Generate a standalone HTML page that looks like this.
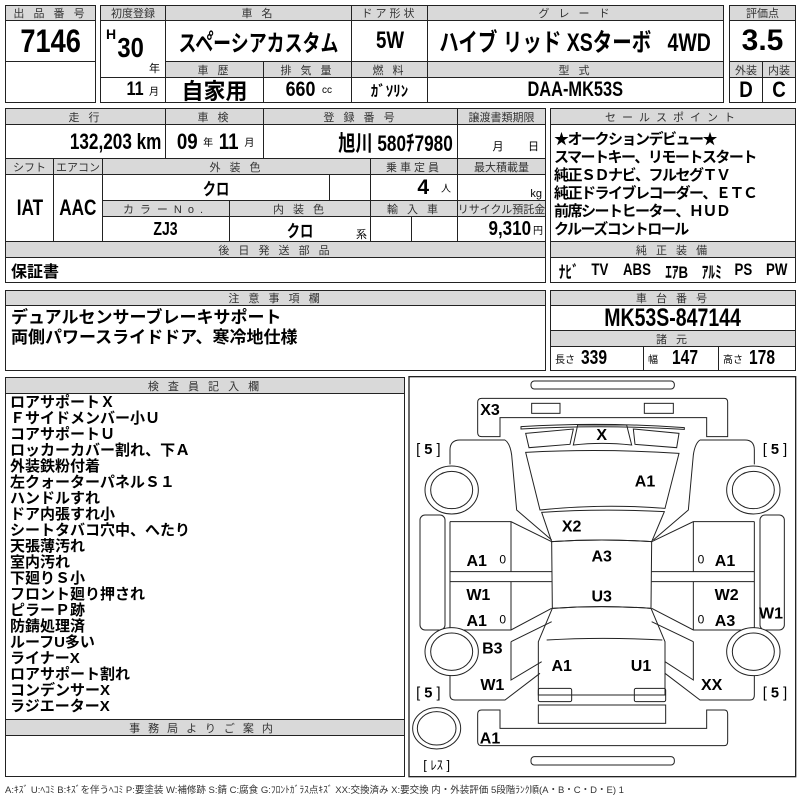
<!DOCTYPE html>
<html><head><meta charset="utf-8">
<style>
body{margin:0;background:#fff;width:800px;height:800px;position:relative;overflow:hidden;font-family:"Liberation Sans","Noto Sans CJK JP",sans-serif;}
.c{position:absolute;box-sizing:border-box;border:1px solid #222;display:flex;align-items:center;justify-content:center;white-space:nowrap;color:#000;}
.h{background:#d9d9d9;font-size:11px;color:#333;letter-spacing:3px;}
.v{font-family:"Liberation Sans","Noto Sans CJK JP",sans-serif;font-weight:bold;font-size:19px;}
.b{font-weight:bold;font-family:"Liberation Sans","Noto Sans CJK JP",sans-serif;}
.s{font-size:10px;font-weight:normal;margin-left:4px;}
.t{position:absolute;white-space:nowrap;}
.n{display:inline-block;transform:scaleX(0.78);}
.m{display:inline-block;transform:scaleX(0.85);}
</style></head><body>
<!-- block1 -->
<div class="c h" style="left:5px;top:5px;width:91px;height:16px">出 品 番 号</div>
<div class="c v" style="left:5px;top:20px;width:91px;height:42px;font-size:32px"><span class="m">7146</span></div>
<div class="c" style="left:5px;top:61px;width:91px;height:42px"></div>
<!-- block2 -->
<div class="c h" style="left:100px;top:5px;width:66px;height:16px;letter-spacing:0">初度登録</div>
<div class="c h" style="left:165px;top:5px;width:187px;height:16px">車 名</div>
<div class="c h" style="left:351px;top:5px;width:77px;height:16px">ドア形状</div>
<div class="c h" style="left:427px;top:5px;width:297px;height:16px">グ レ ー ド</div>
<div class="c" style="left:100px;top:20px;width:66px;height:58px"></div>
<div class="t v" style="left:106px;top:26px;font-size:14px">H</div>
<div class="t v" style="left:115px;top:32px;font-size:28px"><span class="m">30</span></div>
<div class="t" style="left:149px;top:60px;font-size:11px">年</div>
<div class="c v" style="left:165px;top:20px;width:187px;height:42px;font-size:23px"><span class="n">スペ゚ーシアカスタム</span></div>
<div class="c v" style="left:351px;top:20px;width:77px;height:42px;font-size:24px"><span class="n">5W</span></div>
<div class="c v" style="left:427px;top:20px;width:297px;height:42px;font-size:25px"><span class="n">ハイブ リッド XSターボ&nbsp;&nbsp;&nbsp;4WD</span></div>
<div class="c h" style="left:165px;top:61px;width:99px;height:17px">車 歴</div>
<div class="c h" style="left:263px;top:61px;width:89px;height:17px">排 気 量</div>
<div class="c h" style="left:351px;top:61px;width:77px;height:17px">燃 料</div>
<div class="c h" style="left:427px;top:61px;width:297px;height:17px">型 式</div>
<div class="c v" style="left:100px;top:77px;width:66px;height:26px;justify-content:flex-end;padding-right:6px"><span class="m">11</span><span class="s">月</span></div>
<div class="c v" style="left:165px;top:77px;width:99px;height:26px;font-size:22px">自家用</div>
<div class="c v" style="left:263px;top:77px;width:89px;height:26px;font-size:21px"><span class="m">660</span><span class="s">cc</span></div>
<div class="c v" style="left:351px;top:77px;width:77px;height:26px;font-size:15px">ｶﾞｿﾘﾝ</div>
<div class="c v" style="left:427px;top:77px;width:297px;height:26px;font-size:21px"><span class="n">DAA-MK53S</span></div>
<!-- eval -->
<div class="c h" style="left:729px;top:5px;width:67px;height:16px;letter-spacing:0">評価点</div>
<div class="c v" style="left:729px;top:20px;width:67px;height:42px;font-size:30px">3.5</div>
<div class="c h" style="left:729px;top:61px;width:34px;height:17px;letter-spacing:0">外装</div>
<div class="c h" style="left:762px;top:61px;width:34px;height:17px;letter-spacing:0">内装</div>
<div class="c v" style="left:729px;top:77px;width:34px;height:26px;font-size:22px"><span class="m">D</span></div>
<div class="c v" style="left:762px;top:77px;width:34px;height:26px;font-size:22px"><span class="m">C</span></div>
<!-- block3 -->
<div class="c h" style="left:5px;top:108px;width:161px;height:17px">走 行</div>
<div class="c h" style="left:165px;top:108px;width:99px;height:17px">車 検</div>
<div class="c h" style="left:263px;top:108px;width:195px;height:17px">登 録 番 号</div>
<div class="c h" style="left:457px;top:108px;width:89px;height:17px;letter-spacing:0">譲渡書類期限</div>
<div class="c v" style="left:5px;top:124px;width:161px;height:35px;justify-content:flex-end;padding-right:4px;font-size:22px"><span class="n" style="transform-origin:right">132,203 km</span></div>
<div class="c v" style="left:165px;top:124px;width:99px;height:35px;font-size:22px"><span class="m">09</span><span class="s" style="margin-right:4px">年</span><span class="m">11</span><span class="s">月</span></div>
<div class="c v" style="left:263px;top:124px;width:195px;height:35px;font-size:22px;justify-content:flex-end;padding-right:4px"><span class="n" style="transform-origin:right">旭川 580ﾁ7980</span></div>
<div class="c" style="left:457px;top:124px;width:89px;height:35px;font-size:11px;align-items:flex-end;padding-bottom:4px;justify-content:flex-end;padding-right:6px">月&nbsp;&nbsp;&nbsp;&nbsp;&nbsp;&nbsp;&nbsp;&nbsp;日</div>
<div class="c h" style="left:5px;top:158px;width:49px;height:17px;letter-spacing:0">シフト</div>
<div class="c h" style="left:53px;top:158px;width:50px;height:17px;letter-spacing:0">エアコン</div>
<div class="c h" style="left:102px;top:158px;width:269px;height:17px">外 装 色</div>
<div class="c h" style="left:370px;top:158px;width:88px;height:17px">乗車定員</div>
<div class="c h" style="left:457px;top:158px;width:89px;height:17px;letter-spacing:0">最大積載量</div>
<div class="c v" style="left:5px;top:174px;width:49px;height:68px;font-size:22px"><span class="n">IAT</span></div>
<div class="c v" style="left:53px;top:174px;width:50px;height:68px;font-size:22px"><span class="n">AAC</span></div>
<div class="c v" style="left:102px;top:174px;width:228px;height:27px;font-size:17px"><span class="n">クロ</span></div>
<div class="c" style="left:329px;top:174px;width:42px;height:27px"></div>
<div class="c v" style="left:370px;top:174px;width:88px;height:27px;justify-content:flex-end;padding-right:6px;font-size:21px">4<span class="s" style="margin-left:12px">人</span></div>
<div class="c" style="left:457px;top:174px;width:89px;height:27px;font-size:11px;justify-content:flex-end;padding-right:3px;align-items:flex-end">kg</div>
<div class="c h" style="left:102px;top:200px;width:128px;height:17px;letter-spacing:6px">カラーNo.</div>
<div class="c h" style="left:229px;top:200px;width:142px;height:17px">内 装 色</div>
<div class="c h" style="left:370px;top:200px;width:88px;height:17px">輸 入 車</div>
<div class="c h" style="left:457px;top:200px;width:89px;height:17px;letter-spacing:0">リサイクル預託金</div>
<div class="c v" style="left:102px;top:216px;width:128px;height:26px;font-size:18px"><span class="n">ZJ3</span></div>
<div class="c v" style="left:229px;top:216px;width:142px;height:26px;font-size:17px"><span class="n">クロ</span></div>
<div class="t" style="left:356px;top:226px;font-size:11px">系</div>
<div class="c" style="left:370px;top:216px;width:42px;height:26px"></div>
<div class="c" style="left:411px;top:216px;width:47px;height:26px"></div>
<div class="c v" style="left:457px;top:216px;width:89px;height:26px;justify-content:flex-end;padding-right:2px;font-size:20px"><span class="m" style="transform-origin:right">9,310</span><span class="s" style="margin-left:2px">円</span></div>
<div class="c h" style="left:5px;top:241px;width:541px;height:17px">後 日 発 送 部 品</div>
<div class="c b" style="left:5px;top:257px;width:541px;height:26px;justify-content:flex-start;padding-left:5px;font-size:16px">保証書</div>
<!-- sales -->
<div class="c h" style="left:550px;top:108px;width:246px;height:17px;letter-spacing:6px">セールスポイント</div>
<div class="c b" style="left:550px;top:124px;width:246px;height:118px;display:block;font-size:15px;letter-spacing:-1.5px;line-height:18px;padding:6px 0 0 3px">★オークションデビュー★<br>スマートキー、リモートスタート<br>純正ＳＤナビ、フルセグＴＶ<br>純正ドライブレコーダー、ＥＴＣ<br>前席シートヒーター、ＨＵＤ<br>クルーズコントロール</div>
<div class="c h" style="left:550px;top:241px;width:246px;height:17px">純 正 装 備</div>
<div class="c v" style="left:550px;top:257px;width:246px;height:26px;justify-content:space-between;padding:0 5px;font-size:17px"><span class="n">ﾅﾋﾞ</span><span class="n">TV</span><span class="n">ABS</span><span class="n">ｴｱB</span><span class="n">ｱﾙﾐ</span><span class="n">PS</span><span class="n">PW</span></div>
<!-- notes -->
<div class="c h" style="left:5px;top:290px;width:541px;height:16px">注 意 事 項 欄</div>
<div class="c b" style="left:5px;top:305px;width:541px;height:66px;display:block;font-size:17px;line-height:20px;padding:2px 0 0 5px">デュアルセンサーブレーキサポート<br>両側パワースライドドア、寒冷地仕様</div>
<div class="c h" style="left:550px;top:290px;width:246px;height:16px">車 台 番 号</div>
<div class="c v" style="left:550px;top:305px;width:246px;height:26px;font-size:25px"><span class="n">MK53S-847144</span></div>
<div class="c h" style="left:550px;top:330px;width:246px;height:17px">諸 元</div>
<div class="c v" style="left:550px;top:346px;width:94px;height:25px;justify-content:flex-start;padding-left:4px;font-size:20px"><span class="s" style="margin:0 6px 0 0">長さ</span><span class="n" style="transform-origin:left">339</span></div>
<div class="c v" style="left:643px;top:346px;width:76px;height:25px;justify-content:flex-start;padding-left:4px;font-size:20px"><span class="s" style="margin:0 14px 0 0">幅</span><span class="n" style="transform-origin:left">147</span></div>
<div class="c v" style="left:718px;top:346px;width:78px;height:25px;justify-content:flex-start;padding-left:4px;font-size:20px"><span class="s" style="margin:0 6px 0 0">高さ</span><span class="n" style="transform-origin:left">178</span></div>
<!-- inspector -->
<div class="c h" style="left:5px;top:377px;width:400px;height:17px">検 査 員 記 入 欄</div>
<div class="c b" style="left:5px;top:393px;width:400px;height:327px;display:block;font-size:15px;line-height:16px;padding:1px 0 0 4px">ロアサポートＸ<br>Ｆサイドメンバー小Ｕ<br>コアサポートＵ<br>ロッカーカバー割れ、下Ａ<br>外装鉄粉付着<br>左クォーターパネルＳ１<br>ハンドルすれ<br>ドア内張すれ小<br>シートタバコ穴中、へたり<br>天張薄汚れ<br>室内汚れ<br>下廻りＳ小<br>フロント廻り押され<br>ピラーＰ跡<br>防錆処理済<br>ルーフU多い<br>ライナーX<br>ロアサポート割れ<br>コンデンサーX<br>ラジエーターX</div>
<div class="c h" style="left:5px;top:719px;width:400px;height:17px;letter-spacing:8px">事務局よりご案内</div>
<div class="c" style="left:5px;top:735px;width:400px;height:42px"></div>
<!-- diagram -->
<svg style="position:absolute;left:405px;top:375px" width="395" height="410" viewBox="0 0 1185 1230" fill="none" stroke="#222" stroke-width="3">
<rect x="12" y="5" width="1160" height="1200" stroke-width="4"/>
<rect x="378" y="18" width="430" height="24" rx="10"/>
<path d="M230,70 L958,70 Q968,70 968,82 L968,185 L905,185 L905,128 L285,128 L285,185 L230,185 Q218,185 218,173 L218,82 Q218,70 230,70 Z"/>
<rect x="380" y="85" width="85" height="30"/><rect x="718" y="85" width="87" height="30"/>
<path d="M348,155 Q590,140 838,158 L838,163 Q590,148 348,162 Z"/>
<path d="M362,175 L505,162 L495,208 L372,218 Z"/>
<path d="M518,150 L665,150 L680,210 Q590,200 505,210 Z"/>
<path d="M685,162 L822,175 L815,218 L690,208 Z"/>
<path d="M362,232 Q590,220 822,235 L780,400 Q590,385 405,405 Z"/>
<path d="M410,412 Q590,400 778,410 L740,500 Q590,490 440,500 Z"/>
<path d="M440,500 Q590,490 740,500 L738,700 Q590,690 442,700 Z"/>
<path d="M442,700 Q590,690 738,700 L780,800 L780,960 L400,960 L400,800 Z"/>
<path d="M425,795 Q590,785 772,795"/>
<path d="M300,195 L165,195 Q135,195 135,225 L135,268"/>
<path d="M300,195 Q315,205 320,240 L335,405 L440,495"/>
<path d="M1020,195 Q1048,195 1048,225 L1048,268"/>
<path d="M885,195 Q870,205 865,240 L850,405 L745,495"/>
<path d="M885,195 L1020,195"/>
<path d="M135,770 L135,960 Q135,975 150,975 L300,975 L405,895"/>
<path d="M1048,770 L1048,960 Q1048,975 1035,975 L885,975 L780,895"/>
<path d="M135,440 L318,440 L440,500 M135,590 L440,590 M135,620 L440,620 M135,765 L318,765 L440,700 M318,440 L318,590 M318,620 L318,765 M135,440 L135,765"/>
<path d="M1048,440 L865,440 L740,500 M1048,590 L740,590 M1048,620 L740,620 M1048,765 L865,765 L740,700 M865,440 L865,590 M865,620 L865,765 M1048,440 L1048,765"/>
<path d="M318,800 L440,740 M318,800 L318,915 L410,860 M865,800 L740,740 M865,800 L865,915 L780,860"/>
<rect x="45" y="420" width="75" height="345" rx="15"/><rect x="1065" y="420" width="73" height="345" rx="15"/>
<g fill="#fff">
<ellipse cx="140" cy="345" rx="80" ry="72"/><ellipse cx="140" cy="345" rx="63" ry="56"/>
<ellipse cx="1045" cy="345" rx="80" ry="72"/><ellipse cx="1045" cy="345" rx="63" ry="56"/>
<ellipse cx="140" cy="830" rx="80" ry="72"/><ellipse cx="140" cy="830" rx="63" ry="56"/>
<ellipse cx="1045" cy="830" rx="80" ry="72"/><ellipse cx="1045" cy="830" rx="63" ry="56"/>
<ellipse cx="95" cy="1060" rx="72" ry="62"/><ellipse cx="95" cy="1060" rx="58" ry="50"/>
</g>
<rect x="400" y="940" width="100" height="40" rx="5"/><rect x="688" y="940" width="94" height="40" rx="5"/>
<path d="M500,960 L688,960"/>
<rect x="400" y="990" width="382" height="55"/>
<path d="M230,1005 L285,1005 L285,1060 L905,1060 L905,1005 L958,1005 Q968,1005 968,1017 L968,1100 Q968,1112 958,1112 L230,1112 Q218,1112 218,1100 L218,1017 Q218,1005 230,1005 Z"/>
<rect x="378" y="1145" width="430" height="25" rx="10"/>
<g fill="#000" stroke="none" font-family="Liberation Sans, Noto Sans CJK JP, sans-serif" font-weight="bold" font-size="48" text-anchor="middle">
<text x="255" y="120">X3</text><text x="590" y="195">X</text><text x="720" y="335">A1</text>
<text x="500" y="470">X2</text><text x="590" y="560">A3</text><text x="590" y="680">U3</text>
<text x="215" y="573">A1</text><text x="960" y="573">A1</text>
<text x="220" y="675">W1</text><text x="965" y="675">W2</text><text x="1098" y="730">W1</text>
<text x="215" y="753">A1</text><text x="960" y="753">A3</text>
<text x="262" y="835">B3</text><text x="470" y="888">A1</text><text x="708" y="888">U1</text>
<text x="262" y="945">W1</text><text x="920" y="945">XX</text><text x="255" y="1105">A1</text>
</g>
<g fill="#000" stroke="none" font-family="Liberation Sans, sans-serif" font-size="36" text-anchor="middle">
<text x="293" y="565">0</text><text x="888" y="565">0</text><text x="293" y="745">0</text><text x="888" y="745">0</text>
</g>
<g fill="#000" stroke="none" font-family="Liberation Sans, Noto Sans CJK JP, sans-serif" font-size="44" text-anchor="middle">
<text x="70" y="237">[ <tspan font-weight="bold">5</tspan> ]</text><text x="1110" y="237">[ <tspan font-weight="bold">5</tspan> ]</text>
<text x="70" y="967">[ <tspan font-weight="bold">5</tspan> ]</text><text x="1110" y="967">[ <tspan font-weight="bold">5</tspan> ]</text>
<text x="95" y="1183" font-size="38">[ ﾚｽ ]</text>
</g>
</svg>
<div class="t" style="left:5px;top:782px;font-size:9.5px;color:#333">A:ｷｽﾞ U:ﾍｺﾐ B:ｷｽﾞを伴うﾍｺﾐ P:要塗装 W:補修跡 S:錆 C:腐食 G:ﾌﾛﾝﾄｶﾞﾗｽ点ｷｽﾞ XX:交換済み X:要交換 内・外装評価 5段階ﾗﾝｸ順(A・B・C・D・E) 1</div>
</body></html>
